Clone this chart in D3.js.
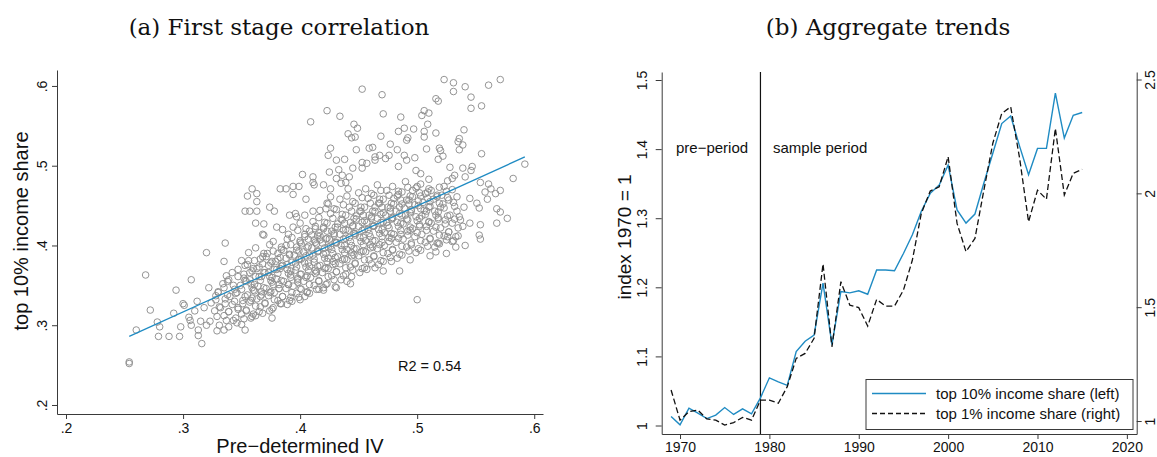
<!DOCTYPE html>
<html>
<head>
    <meta charset="UTF-8">
    <title>First stage correlation and aggregate trends</title>
    <style>
        body { margin: 0; background: #fff; }
        text { font-family: "Liberation Sans", Arial, sans-serif; fill: #111; }
    </style>
</head>
<body>

<div id="my_dataviz"></div>

<script src="https://d3js.org/d3.v7.min.js"></script>
<script>

// ---- panel (a): pre-determined IV vs top 10% income share ----
// scattered points around the cloud
var ivOuter = [
    [0.523,0.608],[0.531,0.604],[0.531,0.593],[0.541,0.599],[0.561,0.601],[0.571,0.608],[0.546,0.586],[0.555,0.575],
    [0.546,0.572],[0.453,0.596],[0.470,0.589],[0.516,0.584],[0.518,0.581],[0.423,0.569],[0.434,0.562],[0.471,0.565],
    [0.486,0.561],[0.409,0.555],[0.446,0.552],[0.449,0.547],[0.506,0.569],[0.510,0.566],[0.504,0.563],[0.509,0.552],
    [0.540,0.545],[0.441,0.540],[0.444,0.535],[0.447,0.536],[0.469,0.537],[0.484,0.543],[0.489,0.547],[0.497,0.546],
    [0.506,0.543],[0.516,0.541],[0.536,0.534],[0.535,0.530],[0.539,0.526],[0.492,0.535],[0.491,0.532],[0.506,0.536],
    [0.536,0.520],[0.555,0.515],[0.462,0.523],[0.459,0.522],[0.448,0.520],[0.477,0.527],[0.483,0.520],[0.508,0.521],
    [0.519,0.522],[0.520,0.519],[0.518,0.508],[0.522,0.512],[0.426,0.522],[0.424,0.513],[0.431,0.507],[0.438,0.508],
    [0.445,0.497],[0.453,0.504],[0.457,0.503],[0.453,0.497],[0.464,0.511],[0.464,0.507],[0.468,0.513],[0.473,0.509],
    [0.476,0.513],[0.489,0.513],[0.498,0.510],[0.484,0.499],[0.491,0.507],[0.499,0.494],[0.503,0.490],[0.528,0.498],
    [0.539,0.497],[0.547,0.499],[0.546,0.494],[0.541,0.486],[0.532,0.488],[0.530,0.484],[0.526,0.481],[0.425,0.492],
    [0.433,0.495],[0.442,0.486],[0.431,0.484],[0.436,0.488],[0.402,0.489],[0.411,0.486],[0.412,0.476],[0.420,0.476],
    [0.426,0.471],[0.411,0.479],[0.435,0.478],[0.439,0.479],[0.441,0.471],[0.510,0.483],[0.592,0.502],[0.582,0.484],
    [0.577,0.434],[0.568,0.428],[0.571,0.442],[0.568,0.446],[0.553,0.447],[0.554,0.479],[0.561,0.477],[0.563,0.471],
    [0.558,0.467],[0.567,0.465],[0.571,0.469],[0.560,0.458],[0.545,0.459],[0.551,0.453],[0.537,0.432],[0.545,0.428],
    [0.554,0.426],[0.553,0.413],[0.554,0.408],[0.541,0.400],[0.533,0.398],[0.530,0.405],[0.526,0.411],[0.525,0.390],
    [0.511,0.387],[0.518,0.403],[0.516,0.392],[0.494,0.382],[0.485,0.368],[0.500,0.332],[0.478,0.380],[0.471,0.368],
    [0.464,0.372],[0.457,0.370],[0.444,0.361],[0.440,0.355],[0.443,0.352],[0.430,0.348],[0.431,0.347],[0.420,0.344],
    [0.416,0.345],[0.406,0.342],[0.400,0.332],[0.392,0.335],[0.384,0.327],[0.376,0.309],[0.365,0.317],[0.359,0.311],
    [0.353,0.294],[0.350,0.301],[0.339,0.298],[0.335,0.294],[0.329,0.293],[0.320,0.300],[0.316,0.277],[0.313,0.287],
    [0.313,0.294],[0.307,0.300],[0.306,0.306],[0.301,0.325],[0.300,0.327],[0.298,0.298],[0.297,0.286],[0.294,0.344],
    [0.292,0.315],[0.288,0.286],[0.280,0.298],[0.279,0.286],[0.278,0.304],[0.272,0.319],[0.268,0.363],[0.260,0.294],
    [0.254,0.254],[0.254,0.252],[0.307,0.357],[0.320,0.391],[0.336,0.403],[0.335,0.380],[0.356,0.391],[0.359,0.471],
    [0.355,0.462],[0.363,0.465],[0.353,0.443],[0.357,0.443],[0.363,0.443],[0.363,0.455],[0.374,0.448],[0.378,0.443],
    [0.383,0.471],[0.388,0.471],[0.394,0.474],[0.399,0.474],[0.394,0.464],[0.405,0.458],[0.362,0.428],[0.369,0.427],
    [0.368,0.414],[0.369,0.413],[0.380,0.423],[0.396,0.440],[0.391,0.438],[0.397,0.436],[0.394,0.423],[0.404,0.438],
    [0.411,0.443],[0.417,0.444],[0.423,0.453],[0.426,0.461],[0.413,0.421],[0.410,0.413],[0.417,0.407],
    [0.305,0.310],[0.310,0.318],[0.315,0.305],[0.318,0.322],[0.312,0.330]
];

// the dense band along the fit line
var ivCore = [
    [0.323,0.305],[0.327,0.318],[0.324,0.328],[0.328,0.337],[0.322,0.347],
    [0.331,0.300],[0.335,0.312],[0.332,0.322],[0.336,0.333],[0.330,0.341],[0.334,0.352],[0.337,0.362],
    [0.343,0.306],[0.339,0.317],[0.342,0.326],[0.340,0.336],[0.344,0.345],[0.338,0.355],[0.342,0.366],
    [0.346,0.303],[0.350,0.314],[0.347,0.322],[0.351,0.331],[0.345,0.340],[0.349,0.350],[0.352,0.359],[0.347,0.370],[0.350,0.381],
    [0.358,0.309],[0.354,0.319],[0.357,0.329],[0.355,0.338],[0.359,0.347],[0.353,0.356],[0.357,0.366],[0.355,0.376],
    [0.362,0.312],[0.366,0.323],[0.363,0.333],[0.367,0.342],[0.361,0.351],[0.365,0.361],[0.363,0.371],[0.366,0.383],[0.362,0.397],
    [0.374,0.318],[0.370,0.327],[0.373,0.337],[0.371,0.346],[0.375,0.356],[0.369,0.366],[0.373,0.375],[0.371,0.386],[0.374,0.401],
    [0.377,0.322],[0.381,0.331],[0.378,0.341],[0.382,0.351],[0.376,0.360],[0.380,0.370],[0.379,0.380],[0.381,0.390],[0.377,0.405],
    [0.389,0.326],[0.385,0.336],[0.388,0.346],[0.386,0.355],[0.390,0.365],[0.384,0.374],[0.388,0.384],[0.386,0.394],[0.389,0.408],[0.385,0.420],
    [0.393,0.330],[0.397,0.340],[0.394,0.349],[0.398,0.359],[0.392,0.368],[0.396,0.378],[0.395,0.388],[0.397,0.398],[0.393,0.410],
    [0.404,0.336],[0.400,0.346],[0.403,0.355],[0.401,0.364],[0.405,0.373],[0.399,0.383],[0.403,0.392],[0.401,0.402],[0.404,0.414],[0.400,0.428],
    [0.408,0.340],[0.412,0.350],[0.409,0.360],[0.413,0.369],[0.407,0.378],[0.411,0.388],[0.410,0.397],[0.412,0.407],[0.408,0.418],[0.411,0.430],
    [0.420,0.347],[0.416,0.356],[0.419,0.366],[0.417,0.375],[0.421,0.384],[0.415,0.393],[0.419,0.403],[0.417,0.412],[0.420,0.423],[0.416,0.435],
    [0.423,0.352],[0.427,0.362],[0.424,0.371],[0.428,0.380],[0.422,0.390],[0.426,0.399],[0.425,0.408],[0.427,0.418],[0.423,0.428],[0.426,0.440],[0.424,0.452],
    [0.435,0.357],[0.431,0.367],[0.434,0.377],[0.432,0.386],[0.436,0.395],[0.430,0.404],[0.434,0.414],[0.432,0.423],[0.435,0.433],[0.431,0.445],[0.434,0.458],
    [0.439,0.364],[0.443,0.373],[0.440,0.382],[0.444,0.391],[0.438,0.400],[0.442,0.410],[0.441,0.419],[0.443,0.429],[0.439,0.438],[0.442,0.448],[0.440,0.462],
    [0.451,0.366],[0.447,0.377],[0.450,0.387],[0.448,0.396],[0.452,0.405],[0.446,0.415],[0.450,0.424],[0.448,0.433],[0.451,0.443],[0.447,0.453],[0.450,0.466],
    [0.455,0.372],[0.459,0.382],[0.456,0.392],[0.460,0.401],[0.454,0.410],[0.458,0.420],[0.457,0.429],[0.459,0.438],[0.455,0.448],[0.458,0.459],[0.456,0.471],
    [0.467,0.376],[0.463,0.386],[0.466,0.396],[0.464,0.406],[0.468,0.415],[0.462,0.424],[0.466,0.434],[0.464,0.443],[0.467,0.453],[0.463,0.463],[0.466,0.476],
    [0.471,0.380],[0.475,0.390],[0.472,0.400],[0.476,0.410],[0.470,0.420],[0.474,0.429],[0.473,0.438],[0.475,0.448],[0.471,0.458],[0.474,0.469],
    [0.483,0.384],[0.479,0.394],[0.482,0.404],[0.480,0.414],[0.484,0.424],[0.478,0.433],[0.482,0.443],[0.480,0.452],[0.483,0.462],[0.479,0.474],
    [0.487,0.388],[0.491,0.398],[0.488,0.408],[0.492,0.418],[0.486,0.428],[0.490,0.438],[0.489,0.447],[0.491,0.457],[0.487,0.467],[0.490,0.480],
    [0.499,0.391],[0.495,0.401],[0.498,0.411],[0.496,0.421],[0.500,0.431],[0.494,0.441],[0.498,0.451],[0.496,0.461],[0.499,0.472],
    [0.503,0.394],[0.507,0.404],[0.504,0.414],[0.508,0.424],[0.502,0.434],[0.506,0.444],[0.505,0.454],[0.507,0.465],[0.503,0.477],
    [0.515,0.398],[0.511,0.408],[0.514,0.418],[0.512,0.428],[0.516,0.438],[0.510,0.448],[0.514,0.458],[0.512,0.469],
    [0.519,0.402],[0.523,0.412],[0.520,0.422],[0.524,0.432],[0.518,0.442],[0.522,0.452],[0.521,0.463],[0.523,0.474],
    [0.531,0.406],[0.527,0.417],[0.530,0.428],[0.528,0.438],[0.532,0.449],[0.526,0.460],[0.530,0.470],
    [0.535,0.412],[0.539,0.424],[0.536,0.436],[0.540,0.448],[0.534,0.461]
];

// second pass over the band, between the points above
var ivCore2 = [
    [0.329,0.311],[0.331,0.323],[0.328,0.332],[0.330,0.342],
    [0.337,0.306],[0.339,0.317],[0.336,0.327],[0.338,0.338],[0.335,0.347],[0.339,0.357],
    [0.345,0.309],[0.347,0.320],[0.344,0.330],[0.346,0.341],[0.343,0.350],[0.347,0.361],
    [0.352,0.308],[0.354,0.318],[0.351,0.327],[0.353,0.336],[0.350,0.345],[0.354,0.355],[0.352,0.364],[0.353,0.375],
    [0.360,0.314],[0.362,0.324],[0.359,0.334],[0.361,0.343],[0.358,0.352],[0.362,0.361],[0.360,0.371],[0.361,0.381],
    [0.368,0.315],[0.370,0.328],[0.367,0.338],[0.369,0.347],[0.366,0.356],[0.370,0.366],[0.368,0.377],[0.369,0.390],
    [0.376,0.320],[0.378,0.332],[0.375,0.342],[0.377,0.351],[0.374,0.361],[0.378,0.370],[0.376,0.380],[0.377,0.393],
    [0.383,0.327],[0.385,0.336],[0.382,0.346],[0.384,0.356],[0.381,0.365],[0.385,0.375],[0.383,0.385],[0.384,0.398],
    [0.391,0.331],[0.393,0.341],[0.390,0.351],[0.392,0.360],[0.389,0.370],[0.393,0.379],[0.391,0.389],[0.392,0.401],[0.390,0.414],
    [0.399,0.335],[0.401,0.345],[0.398,0.354],[0.400,0.364],[0.397,0.373],[0.401,0.383],[0.399,0.393],[0.400,0.404],[0.398,0.419],
    [0.406,0.341],[0.408,0.351],[0.405,0.360],[0.407,0.369],[0.404,0.378],[0.408,0.388],[0.406,0.397],[0.407,0.408],[0.405,0.421],
    [0.414,0.345],[0.416,0.355],[0.413,0.365],[0.415,0.374],[0.412,0.383],[0.416,0.393],[0.414,0.402],[0.415,0.412],[0.413,0.424],
    [0.422,0.351],[0.424,0.361],[0.421,0.371],[0.423,0.380],[0.420,0.389],[0.424,0.398],[0.422,0.408],[0.423,0.418],[0.421,0.429],[0.422,0.446],
    [0.429,0.357],[0.431,0.367],[0.428,0.376],[0.430,0.385],[0.427,0.395],[0.431,0.404],[0.429,0.413],[0.430,0.423],[0.428,0.434],[0.429,0.446],
    [0.437,0.362],[0.439,0.372],[0.436,0.382],[0.438,0.391],[0.435,0.400],[0.439,0.409],[0.437,0.419],[0.438,0.428],[0.436,0.439],[0.437,0.451],
    [0.445,0.369],[0.447,0.378],[0.444,0.387],[0.446,0.396],[0.443,0.405],[0.447,0.415],[0.445,0.424],[0.446,0.434],[0.444,0.443],[0.445,0.455],
    [0.453,0.371],[0.455,0.382],[0.452,0.392],[0.454,0.401],[0.451,0.410],[0.455,0.420],[0.453,0.429],[0.454,0.438],[0.452,0.448],[0.453,0.460],
    [0.461,0.377],[0.463,0.387],[0.460,0.397],[0.462,0.406],[0.459,0.415],[0.463,0.425],[0.461,0.434],[0.462,0.443],[0.460,0.453],[0.461,0.465],
    [0.469,0.381],[0.471,0.391],[0.468,0.401],[0.470,0.411],[0.467,0.420],[0.471,0.429],[0.469,0.439],[0.470,0.448],[0.468,0.458],[0.469,0.469],
    [0.477,0.385],[0.479,0.395],[0.476,0.405],[0.478,0.415],[0.475,0.425],[0.479,0.434],[0.477,0.443],[0.478,0.453],[0.476,0.463],
    [0.485,0.389],[0.487,0.399],[0.484,0.409],[0.486,0.419],[0.483,0.429],[0.487,0.438],[0.485,0.448],[0.486,0.457],[0.484,0.468],
    [0.493,0.393],[0.495,0.403],[0.492,0.413],[0.494,0.423],[0.491,0.433],[0.495,0.443],[0.493,0.452],[0.494,0.462],[0.492,0.473],
    [0.501,0.396],[0.503,0.406],[0.500,0.416],[0.502,0.426],[0.499,0.436],[0.503,0.446],[0.501,0.456],[0.502,0.466],
    [0.509,0.399],[0.511,0.409],[0.508,0.419],[0.510,0.429],[0.507,0.439],[0.511,0.449],[0.509,0.459],[0.510,0.471],
    [0.517,0.403],[0.519,0.413],[0.516,0.423],[0.518,0.433],[0.515,0.443],[0.519,0.453],[0.517,0.463],
    [0.525,0.407],[0.527,0.417],[0.524,0.427],[0.526,0.437],[0.523,0.447],[0.527,0.457],[0.525,0.468],
    [0.533,0.411],[0.535,0.422],[0.532,0.433],[0.534,0.443],[0.531,0.454]
];

// the thickest part of the band, right on the fit
var ivCore3 = [
    [0.358,0.331],[0.360,0.344],[0.357,0.357],[0.359,0.368],[0.356,0.381],
    [0.366,0.336],[0.364,0.349],[0.367,0.361],[0.365,0.373],[0.368,0.386],
    [0.374,0.341],[0.376,0.354],[0.373,0.366],[0.375,0.378],[0.372,0.390],
    [0.382,0.346],[0.380,0.358],[0.383,0.371],[0.381,0.383],[0.384,0.395],
    [0.390,0.351],[0.392,0.363],[0.389,0.376],[0.391,0.388],[0.388,0.400],
    [0.398,0.357],[0.396,0.369],[0.399,0.382],[0.397,0.394],[0.400,0.406],
    [0.406,0.362],[0.408,0.374],[0.405,0.387],[0.407,0.399],[0.404,0.411],
    [0.414,0.367],[0.412,0.379],[0.415,0.392],[0.413,0.404],[0.416,0.416],
    [0.422,0.372],[0.424,0.384],[0.421,0.397],[0.423,0.409],[0.420,0.421],
    [0.430,0.377],[0.428,0.390],[0.431,0.403],[0.429,0.415],[0.432,0.427],
    [0.438,0.383],[0.440,0.395],[0.437,0.408],[0.439,0.420],[0.436,0.432],
    [0.446,0.388],[0.444,0.400],[0.447,0.413],[0.445,0.425],[0.448,0.437],
    [0.454,0.393],[0.456,0.406],[0.453,0.419],[0.455,0.431],[0.452,0.443],
    [0.462,0.398],[0.460,0.411],[0.463,0.424],[0.461,0.436],[0.464,0.448],
    [0.470,0.404],[0.472,0.416],[0.469,0.429],[0.471,0.441],[0.468,0.453],
    [0.478,0.409],[0.476,0.422],[0.479,0.435],[0.477,0.447],[0.480,0.459],
    [0.486,0.414],[0.488,0.427],[0.485,0.440],[0.487,0.452],[0.484,0.464],
    [0.494,0.419],[0.492,0.432],[0.495,0.445],[0.493,0.457],[0.496,0.469],
    [0.502,0.424],[0.504,0.437],[0.501,0.450],[0.503,0.462],[0.500,0.474],
    [0.510,0.430],[0.508,0.443],[0.511,0.455],[0.509,0.467],
    [0.518,0.435],[0.520,0.448],[0.517,0.461],[0.519,0.473]
];

var fitIV = [0.254, 0.592];
var fitShare = [0.286, 0.511];
var r2Label = "R2 = 0.54";

var ivTicks = [0.2, 0.3, 0.4, 0.5, 0.6];
var shareTicks = [0.2, 0.3, 0.4, 0.5, 0.6];

// ---- panel (b): aggregate trends ----
var years = [1969,1970,1971,1972,1973,1974,1975,1976,1977,1978,1979,1980,1981,1982,1983,1984,
    1985,1986,1987,1988,1989,1990,1991,1992,1993,1994,1995,1996,1997,1998,1999,2000,
    2001,2002,2003,2004,2005,2006,2007,2008,2009,2010,2011,2012,2013,2014,2015];

var top10 = [1.013,1.001,1.025,1.018,1.010,1.015,1.026,1.016,1.024,1.017,1.040,1.069,1.063,1.058,1.107,1.122,
    1.131,1.206,1.117,1.194,1.192,1.195,1.190,1.225,1.225,1.224,1.249,1.276,1.310,1.336,1.348,1.377,
    1.312,1.293,1.306,1.351,1.394,1.437,1.448,1.404,1.363,1.401,1.401,1.481,1.416,1.449,1.453];

var top1 = [1.136,1.004,1.041,1.048,1.009,1.004,0.982,0.993,1.016,1.004,1.092,1.092,1.078,1.151,1.275,1.297,
    1.363,1.690,1.326,1.612,1.509,1.498,1.417,1.534,1.505,1.505,1.575,1.707,1.912,2.010,2.029,2.161,
    1.868,1.744,1.802,2.014,2.220,2.351,2.380,2.154,1.875,2.014,1.974,2.285,1.993,2.088,2.105];

var sampleStart = 1979;
var yearTicks = [1970, 1980, 1990, 2000, 2010, 2020];
var leftTicks = [1, 1.1, 1.2, 1.3, 1.4, 1.5];
var rightTicks = [1, 1.5, 2, 2.5];
var seriesNames = ["top 10% income share (left)", "top 1% income share (right)"];

var blue = "#1f8bc3";
var axisCol = "#3a3a3a";
var serif = "'DejaVu Serif', 'Liberation Serif', serif";

var svg = d3.select("#my_dataviz")
    .append("svg")
    .attr("width", 1157)
    .attr("height", 457)
    .style("display", "block")
    .style("background", "#fff");

// titles
svg.append("text")
    .attr("x", 279).attr("y", 35)
    .attr("text-anchor", "middle")
    .style("font-family", serif)
    .style("font-size", "23px")
    .text("(a) First stage correlation");

svg.append("text")
    .attr("x", 888).attr("y", 35)
    .attr("text-anchor", "middle")
    .style("font-family", serif)
    .style("font-size", "23px")
    .text("(b) Aggregate trends");

// ================= panel (a) =================
var xA = d3.scaleLinear().domain([0.1923, 0.6075]).range([57, 543]);
var yA = d3.scaleLinear().domain([0.1887, 0.62]).range([414, 70]);

var fmtDot = function (d) { return d3.format(".1f")(d).replace(/^0/, ""); };

var gA = svg.append("g");

gA.append("g")
    .attr("transform", "translate(0,414)")
    .call(d3.axisBottom(xA).tickValues(ivTicks).tickSize(5).tickSizeOuter(0).tickFormat(fmtDot))
    .call(function (g) {
        g.selectAll("path, line").attr("stroke", axisCol);
        g.selectAll("text").attr("y", 19).attr("dy", null).style("font-size", "14px");
    });

gA.append("g")
    .attr("transform", "translate(57,0)")
    .call(d3.axisLeft(yA).tickValues(shareTicks).tickSize(5).tickSizeOuter(0).tickFormat(fmtDot))
    .call(function (g) {
        g.selectAll("path, line").attr("stroke", axisCol);
        g.selectAll("text")
            .attr("x", null).attr("dy", null)
            .attr("text-anchor", "middle")
            .attr("transform", "translate(-10,0) rotate(-90)")
            .style("font-size", "14px");
    });

gA.selectAll("circle.pt")
    .data(ivOuter.concat(ivCore, ivCore2, ivCore3))
    .join("circle")
    .attr("class", "pt")
    .attr("cx", function (d) { return xA(d[0]); })
    .attr("cy", function (d) { return yA(d[1]); })
    .attr("r", 3.3)
    .attr("fill", "none")
    .attr("stroke", "#8e8e8e")
    .attr("stroke-width", 0.95);

gA.append("line")
    .attr("x1", xA(fitIV[0])).attr("y1", yA(fitShare[0]))
    .attr("x2", xA(fitIV[1])).attr("y2", yA(fitShare[1]))
    .attr("stroke", blue)
    .attr("stroke-width", 1.3);

gA.append("text")
    .attr("x", 398).attr("y", 371)
    .style("font-size", "14.5px")
    .text(r2Label);

gA.append("text")
    .attr("transform", "translate(28,231) rotate(-90)")
    .attr("text-anchor", "middle")
    .style("font-size", "20px")
    .text("top 10% income share");

gA.append("text")
    .attr("x", 300).attr("y", 453)
    .attr("text-anchor", "middle")
    .style("font-size", "20px")
    .text("Pre\u2212determined IV");

// ================= panel (b) =================
var xB = d3.scaleLinear().domain([1967.95, 2021.1]).range([661.7, 1136.7]);
var yL = d3.scaleLinear().domain([0.9877, 1.5116]).range([434, 72]);
var yR = d3.scaleLinear().domain([0.943, 2.533]).range([434, 72]);

var gB = svg.append("g");

gB.append("g")
    .attr("transform", "translate(0,434)")
    .call(d3.axisBottom(xB).tickValues(yearTicks).tickSize(5).tickSizeOuter(0).tickFormat(d3.format("d")))
    .call(function (g) {
        g.selectAll("path, line").attr("stroke", axisCol);
        g.selectAll("text").attr("y", 18).attr("dy", null).style("font-size", "14px");
    });

gB.append("g")
    .attr("transform", "translate(661.7,0)")
    .call(d3.axisLeft(yL).tickValues(leftTicks).tickSize(6).tickSizeOuter(0).tickFormat(d3.format("")))
    .call(function (g) {
        g.selectAll("path, line").attr("stroke", axisCol);
        g.selectAll("text")
            .attr("x", null).attr("dy", null)
            .attr("text-anchor", "middle")
            .attr("transform", "translate(-15,0) rotate(-90)")
            .style("font-size", "14px");
    });

gB.append("g")
    .attr("transform", "translate(1136.7,0)")
    .call(d3.axisRight(yR).tickValues(rightTicks).tickSize(5).tickSizeOuter(0).tickFormat(d3.format("")))
    .call(function (g) {
        g.selectAll("path, line").attr("stroke", axisCol);
        g.selectAll("text")
            .attr("x", null).attr("dy", null)
            .attr("text-anchor", "middle")
            .attr("transform", "translate(18,0) rotate(-90)")
            .style("font-size", "14px");
    });

gB.append("text")
    .attr("transform", "translate(631,237) rotate(-90)")
    .attr("text-anchor", "middle")
    .style("font-size", "19px")
    .text("index 1970 = 1");

// start of sample period
gB.append("line")
    .attr("x1", xB(sampleStart)).attr("x2", xB(sampleStart))
    .attr("y1", 72).attr("y2", 434)
    .attr("stroke", "#111")
    .attr("stroke-width", 1.2);

gB.append("text")
    .attr("x", 676).attr("y", 153)
    .style("font-size", "15px")
    .text("pre\u2212period");

gB.append("text")
    .attr("x", 773).attr("y", 153)
    .style("font-size", "15px")
    .text("sample period");

var lineL = d3.line()
    .x(function (d, i) { return xB(years[i]); })
    .y(function (d) { return yL(d); });

var lineR = d3.line()
    .x(function (d, i) { return xB(years[i]); })
    .y(function (d) { return yR(d); });

gB.append("path")
    .datum(top10)
    .attr("d", lineL)
    .attr("fill", "none")
    .attr("stroke", blue)
    .attr("stroke-width", 1.4);

gB.append("path")
    .datum(top1)
    .attr("d", lineR)
    .attr("fill", "none")
    .attr("stroke", "#111")
    .attr("stroke-width", 1.3)
    .attr("stroke-dasharray", "6,3");

// legend
var leg = gB.append("g");
leg.append("rect")
    .attr("x", 866).attr("y", 379.5)
    .attr("width", 267).attr("height", 50)
    .attr("fill", "#fff")
    .attr("stroke", axisCol)
    .attr("stroke-width", 1);

seriesNames.forEach(function (name, i) {
    var yy = 393.5 + i * 20;
    leg.append("line")
        .attr("x1", 872).attr("x2", 926)
        .attr("y1", yy).attr("y2", yy)
        .attr("stroke", i === 0 ? blue : "#111")
        .attr("stroke-width", 1.3)
        .attr("stroke-dasharray", i === 0 ? null : "5,3");
    leg.append("text")
        .attr("x", 936).attr("y", yy + 5.5)
        .style("font-size", "15px")
        .text(name);
});

</script>
</body>
</html>
